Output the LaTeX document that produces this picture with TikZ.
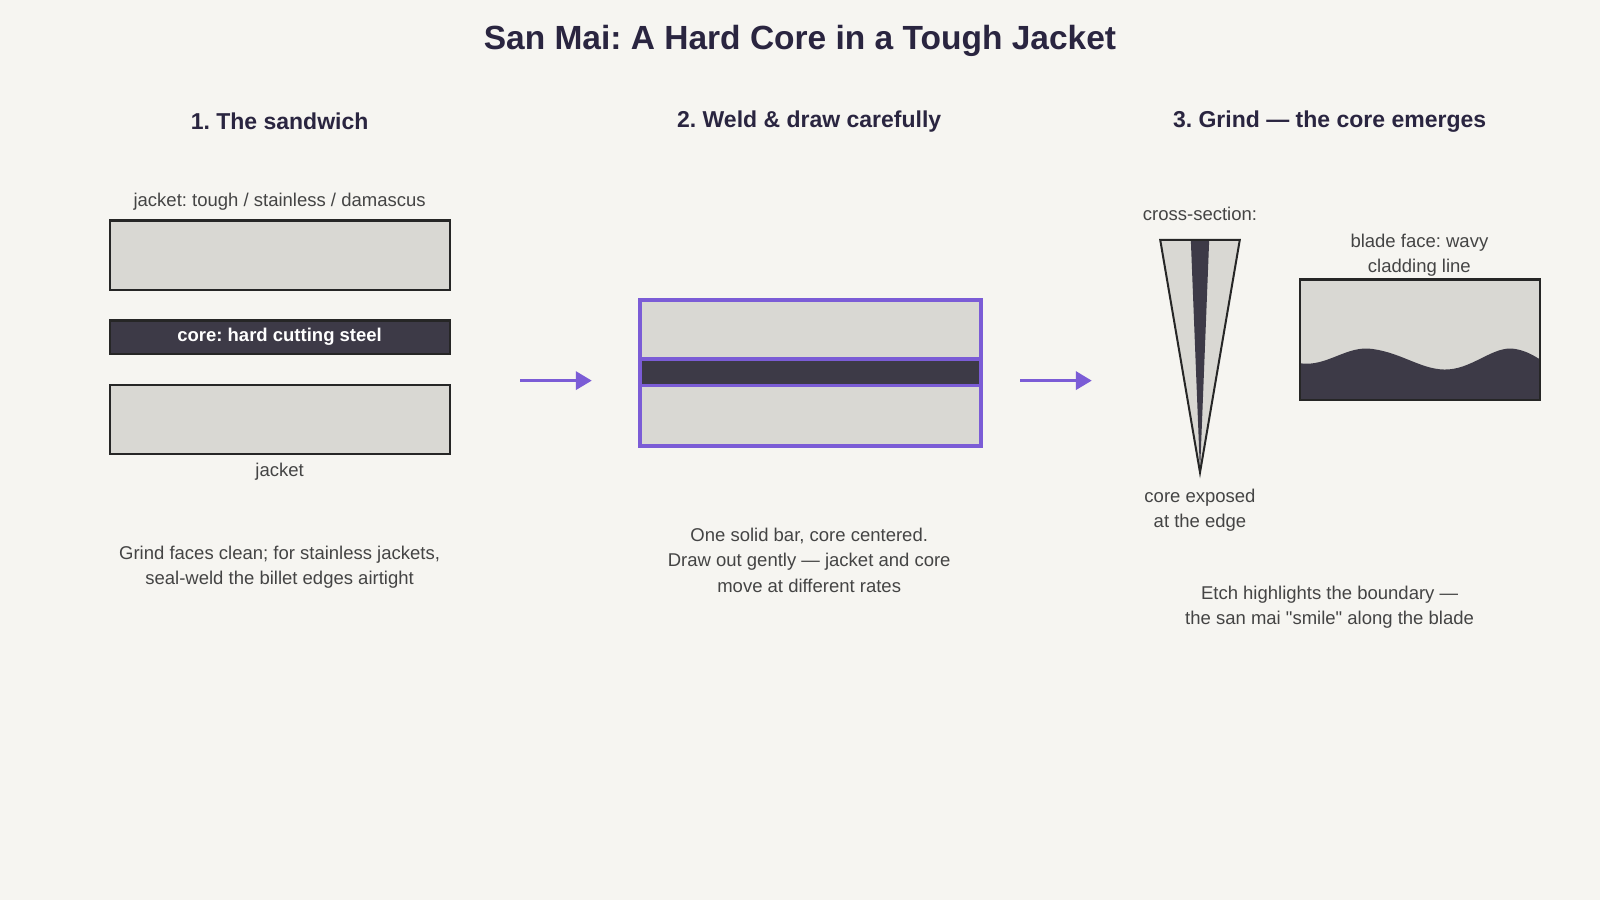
\documentclass[tikz,border=0pt]{standalone}
\usepackage{fontspec}
\setmainfont[Ligatures=TeXOff]{Liberation Sans}
\usetikzlibrary{arrows.meta}
\definecolor{bg}{HTML}{F6F5F1}
\definecolor{ink}{HTML}{2A2540}
\definecolor{txt}{HTML}{444444}
\definecolor{steel}{HTML}{D9D8D3}
\definecolor{core}{HTML}{3D3A47}
\definecolor{purp}{HTML}{7B5CD6}
\frenchspacing
\begin{document}
\begin{tikzpicture}[x=1.0204pt,y=-1.0204pt,
  title/.style={font=\bfseries\fontsize{33.5}{38}\selectfont,text=ink},
  head/.style={font=\bfseries\fontsize{23}{27}\selectfont,text=ink},
  lab/.style={font=\fontsize{18.5}{25.5}\selectfont,text=txt,align=center},
  jack/.style={fill=steel,draw=black!85,line width=2.2pt},
  arr/.style={draw=purp,line width=3.5pt,-{Triangle[length=16pt,width=18pt]}}]
\fill[bg] (0,0) rectangle (1568,882);
\useasboundingbox (0,0) rectangle (1568,882);
\node[title] (t) at (784,40) {San Mai: A Hard Core in a Tough Jacket};
\node[head] (h1) at (274,119) {1. The sandwich};
\node[head] (h2) at (793,119) {2. Weld \& draw carefully};
\node[head] (h3) at (1303,119) {3. Grind — the core emerges};
% panel 1
\node[lab] (l1) at (274,198) {jacket: tough / stainless / damascus};
\draw[jack] (108,216) rectangle (441,284);
\draw[fill=core,draw=black!85,line width=2.2pt] (108,314) rectangle (441,347);
\node[font=\bfseries\fontsize{18.5}{20}\selectfont,text=white] (c1) at (274,330) {core: hard cutting steel};
\draw[jack] (108,377) rectangle (441,445);
\node[lab] (l2) at (274,462) {jacket};
\node[lab] (l3) at (274,556) {Grind faces clean; for stainless jackets,\\seal-weld the billet edges airtight};
% arrows
\coordinate (a1) at (510,373); \coordinate (a2) at (580,373);
\draw[arr] (a1) -- (a2);
\coordinate (b1) at (1000,373); \coordinate (b2) at (1070,373);
\draw[arr] (b1) -- (b2);
% panel 2
\fill[steel] (627,294) rectangle (961,437);
\fill[core] (627,352) rectangle (961,378);
\draw[purp,line width=3.5pt] (627,352) -- (961,352) (627,378) -- (961,378);
\draw[purp,line width=4pt] (627,294) rectangle (961,437);
\node[lab] (l4) at (793,549) {One solid bar, core centered.\\Draw out gently — jacket and core\\move at different rates};
% panel 3
\node[lab] (l5) at (1176,210) {cross-section:};
\fill[steel] (1137,235) -- (1215,235) -- (1176,463) -- cycle;
\fill[core] (1167,235) -- (1185,235) -- (1176,463) -- cycle;
\draw[black!85,line width=2pt,line join=miter] (1137,235) -- (1215,235) -- (1176,463) -- cycle;
\node[lab] (l6) at (1176,500) {core exposed\\at the edge};
\node[lab] (l7) at (1391,250) {blade face: wavy\\cladding line};
\fill[steel] (1274,274) rectangle (1509,392);
\fill[core] (1274,356) .. controls (1300,360) and (1320,338) .. (1345,342)
  .. controls (1375,346) and (1395,364) .. (1420,362)
  .. controls (1445,360) and (1465,338) .. (1485,342)
  .. controls (1497,344) and (1505,350) .. (1509,352) -- (1509,392) -- (1274,392) -- cycle;
\draw[black!85,line width=2.2pt] (1274,274) rectangle (1509,392);
\node[lab] (l8) at (1303,595) {Etch highlights the boundary —\\the san mai "smile" along the blade};
\end{tikzpicture}
\end{document}
